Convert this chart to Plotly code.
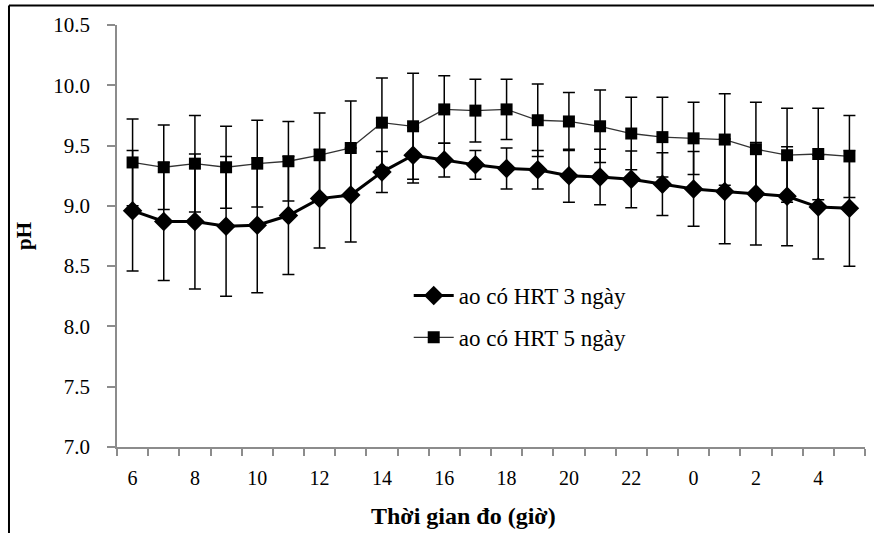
import plotly.graph_objects as go

hours = ["6", "7", "8", "9", "10", "11", "12", "13", "14", "15", "16", "17",
         "18", "19", "20", "21", "22", "23", "0", "1", "2", "3", "4", "5"]
tick_labels = ["6", "", "8", "", "10", "", "12", "", "14", "", "16", "",
               "18", "", "20", "", "22", "", "0", "", "2", "", "4", ""]

ph_hrt3 = [8.96, 8.87, 8.87, 8.83, 8.84, 8.92, 9.06, 9.09, 9.28, 9.42, 9.38, 9.34,
           9.31, 9.30, 9.25, 9.24, 9.22, 9.18, 9.14, 9.12, 9.10, 9.08, 8.99, 8.98]
err_hrt3 = [0.50, 0.49, 0.56, 0.58, 0.56, 0.49, 0.41, 0.39, 0.17, 0.23, 0.14, 0.12,
            0.17, 0.16, 0.22, 0.23, 0.235, 0.26, 0.31, 0.435, 0.425, 0.41, 0.43, 0.48]

ph_hrt5 = [9.36, 9.32, 9.35, 9.32, 9.35, 9.37, 9.42, 9.48, 9.69, 9.66, 9.80, 9.79,
           9.80, 9.71, 9.70, 9.66, 9.60, 9.57, 9.56, 9.55, 9.47, 9.42, 9.43, 9.41]
err_hrt5 = [0.36, 0.35, 0.40, 0.34, 0.36, 0.33, 0.35, 0.39, 0.37, 0.44, 0.28, 0.26,
            0.25, 0.30, 0.24, 0.30, 0.30, 0.33, 0.30, 0.38, 0.39, 0.39, 0.38, 0.34]

FONT = "Liberation Serif"

fig = go.Figure()
fig.add_trace(go.Scatter(
    x=hours, y=ph_hrt3, name="ao có HRT 3 ngày", mode="lines+markers",
    legendgroup="a",
    line=dict(color="black", width=3),
    marker=dict(symbol="diamond", size=15, color="black"),
    error_y=dict(type="data", array=err_hrt3, visible=True, color="black",
                 thickness=1.5, width=6),
))
fig.add_trace(go.Scatter(
    x=hours, y=ph_hrt5, name="ao có HRT 5 ngày", mode="lines+markers",
    legendgroup="b",
    line=dict(color="#333333", width=1.3),
    marker=dict(symbol="square", size=12, color="black"),
    error_y=dict(type="data", array=err_hrt5, visible=True, color="black",
                 thickness=1.5, width=6),
))

axis_grey = "#8c8c8c"
fig.update_layout(
    width=874, height=533,
    margin=dict(l=117, r=9, t=25, b=86),
    paper_bgcolor="white", plot_bgcolor="white",
    font=dict(family=FONT, size=20, color="black"),
    showlegend=True,
    legend=dict(x=0.39, y=0.41, xanchor="left", yanchor="top",
                bgcolor="rgba(0,0,0,0)", font=dict(size=23),
                tracegroupgap=9, itemwidth=40),
    xaxis=dict(
        type="category", categoryorder="array", categoryarray=hours,
        range=[-0.5, 23.5], autorange=False,
        tickmode="array", tickvals=hours, ticktext=tick_labels, tickangle=0,
        tickson="boundaries", ticks="outside", ticklen=7, tickcolor=axis_grey,
        tickwidth=1.5,
        showline=True, linecolor=axis_grey, linewidth=1.5,
        showgrid=False, zeroline=False,
        tickfont=dict(size=20), ticklabelstandoff=12,
    ),
    yaxis=dict(
        range=[7.0, 10.5], dtick=0.5, tick0=7.0, tickformat=".1f",
        ticks="outside", ticklen=8, tickcolor=axis_grey, tickwidth=1.5,
        showline=True, linecolor=axis_grey, linewidth=1.5,
        showgrid=False, zeroline=False,
        tickfont=dict(size=21), ticklabelstandoff=13,
        title=dict(text="<b>pH</b>", font=dict(size=21), standoff=16),
    ),
    annotations=[
        dict(text="<b>Thời gian đo (giờ)</b>", xref="paper", yref="paper",
             x=0.4626, y=-0.163, xanchor="center", yanchor="middle",
             showarrow=False, font=dict(size=24)),
    ],
    shapes=[
        dict(type="line", xref="paper", yref="paper",
             x0=-0.1444, x1=-0.1444, y0=-0.21, y1=1.046,
             line=dict(color="black", width=2)),
        dict(type="line", xref="paper", yref="paper",
             x0=-0.1444, x1=1.02, y0=1.046, y1=1.046,
             line=dict(color="black", width=2)),
    ],
)

fig.write_html("out.html")
